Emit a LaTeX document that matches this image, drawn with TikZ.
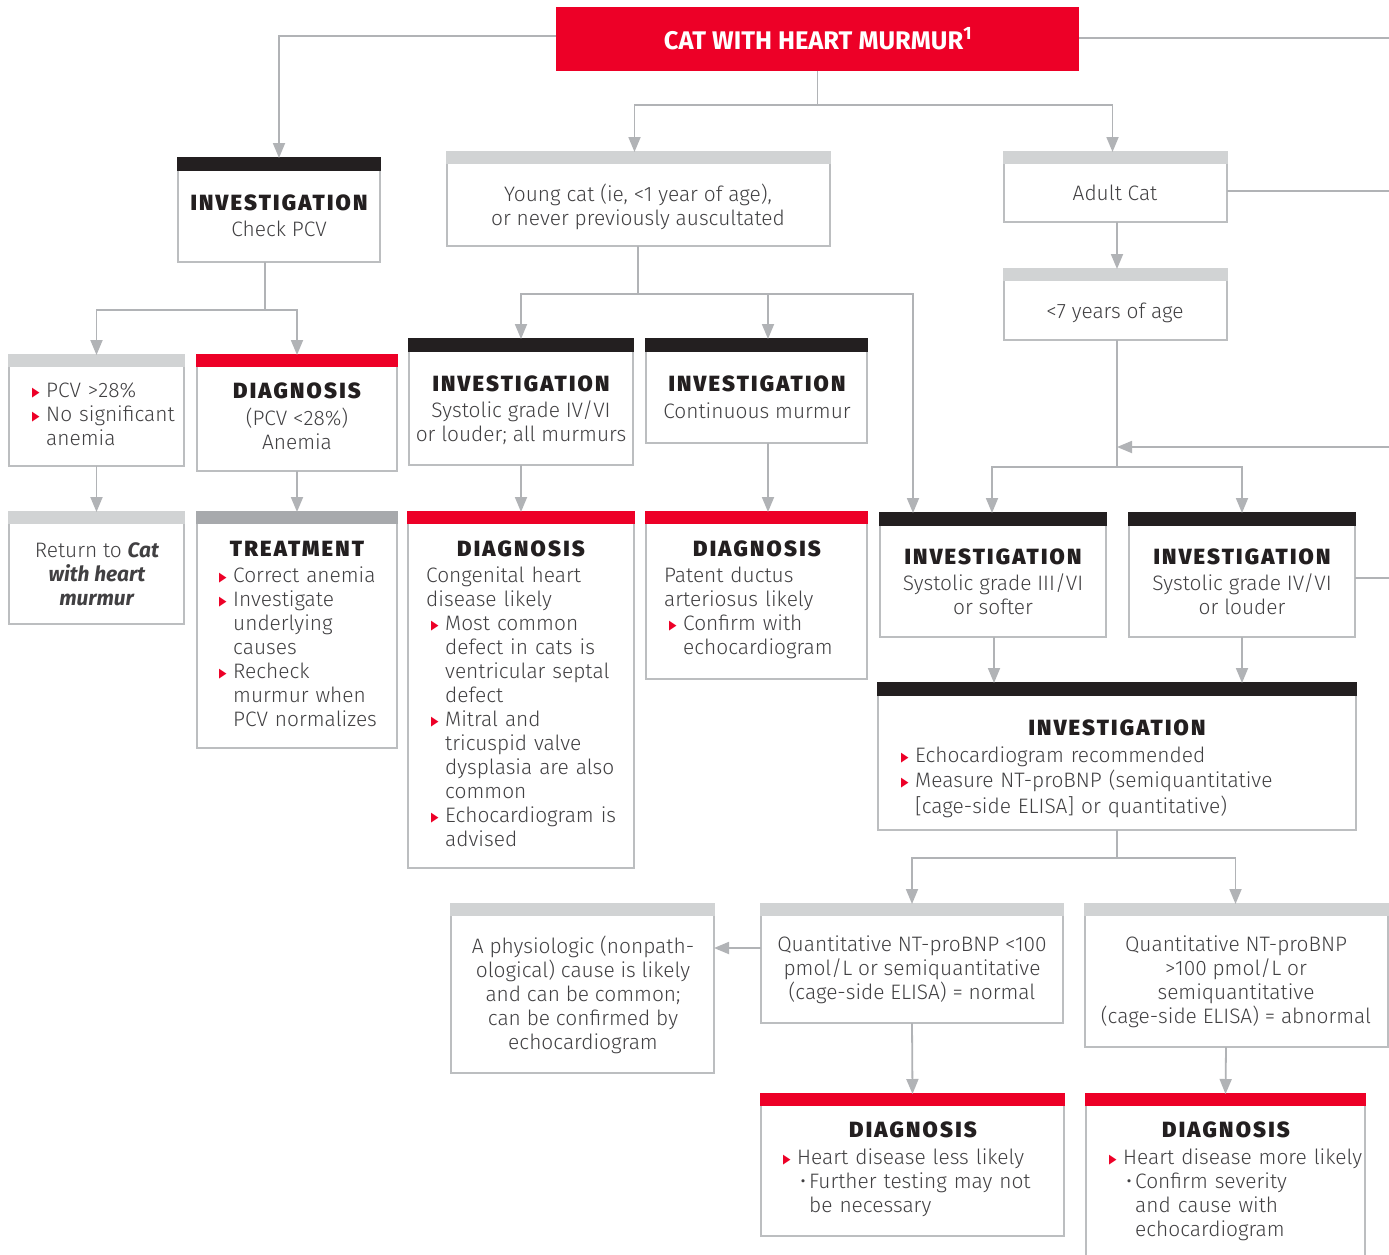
\documentclass[tikz,border=0pt]{standalone}
\usepackage{fontspec}
\usepackage{graphicx}
\setmainfont{Fira Sans Light}[BoldFont={Fira Sans Bold},ItalicFont={Fira Sans Light Italic},BoldItalicFont={Fira Sans Bold Italic}]
\newfontfamily\hfont{Fira Sans Black}[LetterSpace=10]
\newfontfamily\symfont{DejaVu Sans}
\usetikzlibrary{arrows.meta,calc}
\definecolor{cred}{RGB}{237,0,39}
\definecolor{cblack}{RGB}{35,31,32}
\definecolor{cgrayh}{RGB}{209,211,212}
\definecolor{cgrayd}{RGB}{167,169,172}
\definecolor{cborder}{RGB}{188,190,192}
\definecolor{cline}{RGB}{177,179,182}
\definecolor{ctext}{RGB}{65,64,66}
\newcommand\tri{\raisebox{1pt}{\scalebox{0.75}[1]{\symfont\fontsize{13}{13}\selectfont\textcolor{cred}{▶}}}}
\newcommand\itmbody{\noindent\strut\makebox[19pt][l]{\hspace{5pt}\tri}}
\newcommand\itm{\par\itmbody}
\newcommand\sitm{\par\noindent\strut\hspace*{22pt}\makebox[9pt][l]{•}}
\newcommand\cl{\newline\hspace*{19pt}}
\newcommand\scl{\newline\hspace*{31pt}}
\newcommand\bx[7]{%
  \node[boxst, minimum width={#4-#2}, minimum height={#5-#3}] (#1) at (#2,#3) {};
  \fill[#6] (#2-0.9,#3-0.9) rectangle (#4+0.9,#3+#7);}
\tikzset{
  boxst/.style={draw=cborder, line width=1.8pt, fill=white, inner sep=0pt, outer sep=0pt, anchor=north west},
  ln/.style={draw=cline, line width=1.8pt},
  conn/.style={ln, -{Triangle[length=15pt,width=12pt]}},
  hd/.style={anchor=base, inner sep=0pt, text=cblack, font=\hfont\fontsize{22}{24}\selectfont},
  bd/.style={anchor=north, inner sep=0pt, text=ctext, align=center, font=\fontsize{20.9}{24}\selectfont, execute at begin node=\strut},
  bl/.style={anchor=north west, inner sep=0pt, text=ctext, align=left, text width=420pt, font=\fontsize{20.9}{24}\selectfont},
}
\begin{document}
\begin{tikzpicture}[x=1pt,y=-1pt]
\useasboundingbox[fill=white] (0,0) rectangle (1389,1255);
% title
\node[fill=cred, minimum width=523, minimum height=64, anchor=north west, inner sep=0pt, outer sep=0pt] (title) at (556,7) {};
\node[anchor=base, text=white, font=\bfseries\fontsize{25.5}{26}\selectfont, inner sep=0pt] (titletxt) at (818,49) {CAT WITH HEART MURMUR\textsuperscript{1}};
% boxes
\bx{inv1}{178}{158}{380}{262}{cblack}{13}
\bx{pcv}{9}{355}{184}{466}{cgrayh}{12}
\bx{diag1}{197}{355}{397}{471}{cred}{12}
\bx{ret}{9}{512}{184}{624}{cgrayh}{12}
\bx{treat}{197}{512}{397}{748}{cgrayd}{12}
\bx{young}{447}{152}{830}{246}{cgrayh}{12}
\bx{inv2}{409}{339}{633}{465}{cblack}{13}
\bx{inv3}{646}{339}{867}{443}{cblack}{13}
\bx{diag2}{408}{512}{634}{868}{cred}{12}
\bx{diag3}{646}{512}{867}{679}{cred}{12}
\bx{adult}{1004}{152}{1227}{222}{cgrayh}{12}
\bx{seven}{1004}{269}{1227}{340}{cgrayh}{12}
\bx{inv4}{880}{513}{1106}{637}{cblack}{13}
\bx{inv5}{1129}{513}{1355}{637}{cblack}{13}
\bx{inv6}{878}{683}{1356}{830}{cblack}{13}
\bx{qa}{761}{904}{1063}{1023}{cgrayh}{12}
\bx{qb}{1085}{904}{1388}{1047}{cgrayh}{12}
\bx{phys}{451}{904}{714}{1073}{cgrayh}{12}
\bx{dfour}{761}{1094}{1064}{1236}{cred}{12}
\node[boxst, draw=none, minimum width=279, minimum height=166] (dfive) at (1086,1094) {};
\draw[draw=cborder, line width=1.8pt] (dfive.south west) -- (dfive.north west) -- (dfive.north east) -- (dfive.south east);
\fill[cred] (1086-0.9,1094-0.9) rectangle (1365+0.9,1094+12);
% texts
\node[hd] (inv1h) at (279,210) {INVESTIGATION};
\node[bd] (inv1t) at (279,219) {Check PCV};
\node[bl] (pcvt) at (27,380) {\itmbody PCV >28\% \itm No significant\cl anemia};
\node[hd] (diag1h) at (297,398) {DIAGNOSIS};
\node[bd] (diag1t) at (297,408) {(PCV <28\%)\\Anemia};
\node[bd] (rett) at (97,542) {Return to \textbf{\textit{Cat}}\\\textbf{\textit{with heart}}\\\textbf{\textit{murmur}}};
\node[hd] (treath) at (297,556) {TREATMENT};
\node[bl] (treatt) at (214,565) {\itmbody Correct anemia \itm Investigate\cl underlying\cl causes \itm Recheck\cl murmur when\cl PCV normalizes};
\node[bd] (youngt) at (638,184) {Young cat (ie, <1 year of age),\\or never previously auscultated};
\node[hd] (inv2h) at (521,391) {INVESTIGATION};
\node[bd] (inv2t) at (521,401) {Systolic grade IV/VI\\or louder; all murmurs};
\node[hd] (inv3h) at (757,391) {INVESTIGATION};
\node[bd] (inv3t) at (757,401) {Continuous murmur};
\node[hd] (diag2h) at (521,556) {DIAGNOSIS};
\node[bl] (diag2t) at (426,565) {\strut Congenital heart\newline disease likely \itm Most common\cl defect in cats is\cl ventricular septal\cl defect \itm Mitral and\cl tricuspid valve\cl dysplasia are also\cl common \itm Echocardiogram is\cl advised};
\node[hd] (diag3h) at (757,556) {DIAGNOSIS};
\node[bl] (diag3t) at (664,565) {\strut Patent ductus\newline arteriosus likely \itm Confirm with\cl echocardiogram};
\node[bd] (adultt) at (1115,183) {Adult Cat};
\node[bd] (sevent) at (1115,301) {<7 years of age};
\node[hd] (inv4h) at (993,564) {INVESTIGATION};
\node[bd] (inv4t) at (993,574) {Systolic grade III/VI\\or softer};
\node[hd] (inv5h) at (1242,564) {INVESTIGATION};
\node[bd] (inv5t) at (1242,574) {Systolic grade IV/VI\\or louder};
\node[hd] (inv6h) at (1117,735) {INVESTIGATION};
\node[bl] (inv6t) at (896,745) {\itmbody Echocardiogram recommended \itm Measure NT-proBNP (semiquantitative\cl [cage-side ELISA] or quantitative)};
\node[bd] (qat) at (912,936) {Quantitative NT-proBNP <100\\pmol/L or semiquantitative\\(cage-side ELISA) = normal};
\node[bd] (qbt) at (1236,936) {Quantitative NT-proBNP\\>100 pmol/L or\\semiquantitative\\(cage-side ELISA) = abnormal};
\node[bd] (physt) at (583,936) {A physiologic (nonpath-\\ological) cause is likely\\and can be common;\\can be confirmed by\\echocardiogram};
\node[hd] (dfourh) at (913,1137) {DIAGNOSIS};
\node[bl] (dfourt) at (778,1147) {\itmbody Heart disease less likely\sitm Further testing may not\scl be necessary};
\node[hd] (dfiveh) at (1226,1137) {DIAGNOSIS};
\node[bl] (dfivet) at (1104,1147) {\itmbody Heart disease more likely\sitm Confirm severity\scl and cause with\scl echocardiogram};
% coordinates
\coordinate (edgeA) at (1389,38);
\coordinate (edgeB) at (1389,447);
\coordinate (edgeC) at (1389,191);
\coordinate (edgeD) at (1389,578);
\coordinate (j1) at (818,105);
\coordinate (j2) at (265,310);
\coordinate (j3) at (638,294);
\coordinate (j4) at (1117,467);
\coordinate (j5) at (1117,858);
% connectors
\draw[conn] ($(title.north west)+(0,29)$) -| (inv1.north);
\draw[ln] ($(title.north east)+(0,31)$) -- (edgeA);
\draw[ln] (title.south) -- (title.south |- j1);
\draw[conn] (j1) -| ($(young.north)+(-4,0)$);
\draw[conn] (j1) -| ($(adult.north)+(-3,0)$);
\draw[ln] (inv1.south -| j2) -- (j2);
\draw[conn] (j2) -| (pcv.north);
\draw[conn] (j2) -| (diag1.north);
\draw[conn] (pcv.south) -- (ret.north);
\draw[conn] (diag1.south) -- (treat.north);
\draw[ln] (young.south -| j3) -- (j3);
\draw[conn] (j3) -| (inv2.north);
\draw[conn] (j3) -| ($(inv3.north)+(11.5,0)$);
\draw[conn] (j3) -| ($(inv4.north)+(-80,0)$);
\draw[conn] (inv2.south) -- (diag2.north);
\draw[conn] ($(inv3.south)+(11.5,0)$) -- ($(diag3.north)+(11.5,0)$);
\draw[ln] ($(adult.north east)+(0,39)$) -- (edgeC);
\draw[conn] (adult.south -| j4) -- (seven.north -| j4);
\draw[ln] (seven.south -| j4) -- (j4);
\draw[conn] (edgeB) -- (edgeB -| j4);
\draw[conn] (j4) -| ($(inv4.north)+(-1,0)$);
\draw[conn] (j4) -| (inv5.north);
\draw[ln] ($(inv5.north east)+(0,65)$) -- (edgeD);
\draw[conn] ($(inv4.south)+(1,0)$) -- ($(inv4.south |- inv6.north)+(1,0)$);
\draw[conn] (inv5.south) -- (inv5.south |- inv6.north);
\draw[ln] (inv6.south) -- (j5);
\draw[conn] (j5) -| (qa.north);
\draw[conn] (j5) -| ($(qb.north)+(-1,0)$);
\draw[conn] ($(qa.north west)+(0,44)$) -- ($(phys.north east)+(0,44)$);
\draw[conn] (qa.south) -- (dfour.north);
\draw[conn] ($(qb.south)+(-10.5,0)$) -- (dfive.north);
\end{tikzpicture}
\end{document}
